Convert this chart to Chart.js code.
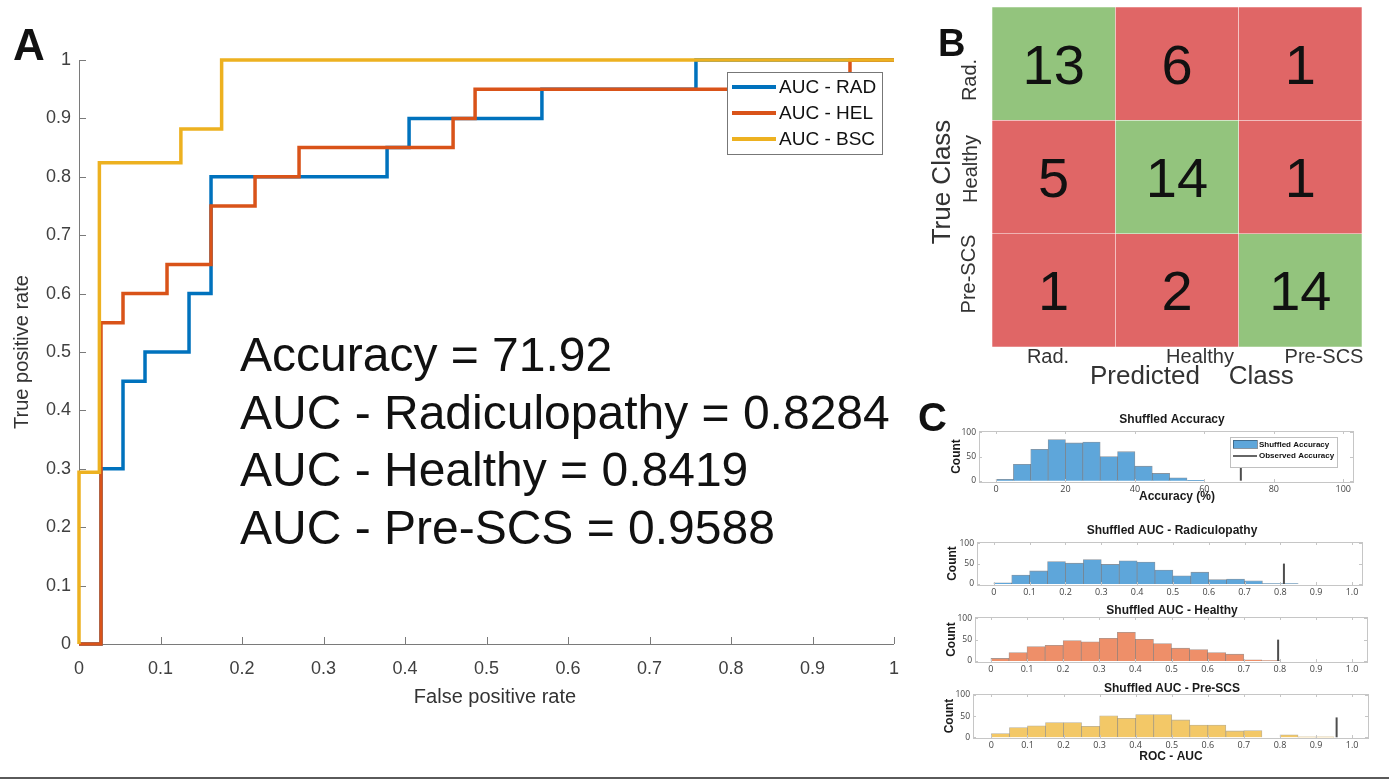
<!DOCTYPE html>
<html>
<head>
<meta charset="utf-8">
<script src="https://cdn.jsdelivr.net/npm/chart.js@4.4.1/dist/chart.umd.min.js"></script>
<style>
  body { margin: 0; background: #fff; }
  #page { position: relative; width: 1389px; height: 781px; overflow: hidden; background: #fff; }
  canvas { position: absolute; }
  #sep { position: absolute; left: 0; top: 777px; width: 1389px; height: 2px; background: #5a5a5a; }
</style>
</head>
<body>
<div id="page">
  <canvas id="roc"></canvas>
  <canvas id="cm"></canvas>
  <canvas id="h1"></canvas>
  <canvas id="h2"></canvas>
  <canvas id="h3"></canvas>
  <canvas id="h4"></canvas>
  <div id="sep"></div>
</div>
<script>
// --- panel A: ROC curves (vertices) ---
const rocNames = ["AUC - RAD", "AUC - HEL", "AUC - BSC"];
const rocColors = ["#0072BD", "#D95319", "#EDB120"];
const radX = [0, 0.027, 0.027, 0.054, 0.054, 0.081, 0.081, 0.135, 0.135, 0.162, 0.162, 0.378, 0.378, 0.405, 0.405, 0.568, 0.568, 0.757, 0.757, 1];
const radY = [0, 0, 0.30, 0.30, 0.45, 0.45, 0.50, 0.50, 0.60, 0.60, 0.80, 0.80, 0.85, 0.85, 0.90, 0.90, 0.95, 0.95, 1, 1];
const helX = [0, 0.027, 0.027, 0.054, 0.054, 0.108, 0.108, 0.162, 0.162, 0.216, 0.216, 0.270, 0.270, 0.459, 0.459, 0.486, 0.486, 0.946, 0.946, 1];
const helY = [0, 0, 0.55, 0.55, 0.60, 0.60, 0.65, 0.65, 0.75, 0.75, 0.80, 0.80, 0.85, 0.85, 0.90, 0.90, 0.95, 0.95, 1, 1];
const bscX = [0, 0, 0.025, 0.025, 0.125, 0.125, 0.175, 0.175, 1];
const bscY = [0, 0.294, 0.294, 0.824, 0.824, 0.882, 0.882, 1, 1];
const rocTicks = [0, 0.1, 0.2, 0.3, 0.4, 0.5, 0.6, 0.7, 0.8, 0.9, 1];
const statLines = ["Accuracy = 71.92", "AUC - Radiculopathy = 0.8284", "AUC - Healthy = 0.8419", "AUC - Pre-SCS = 0.9588"];

// --- panel B: confusion matrix ---
const cmClasses = ["Rad.", "Healthy", "Pre-SCS"];
const cmCounts = [[13, 6, 1], [5, 14, 1], [1, 2, 14]];

// --- panel C: shuffled histograms ---
const accBins = [0, 5, 10, 15, 20, 25, 30, 35, 40, 45, 50, 55];
const accCounts = [3, 34, 65, 85, 78, 80, 50, 60, 30, 15, 6, 1];
const accTicks = [0, 20, 40, 60, 80, 100];
const accTickLabels = ["0", "20", "40", "60", "80", "100"];
const aucBins = [0, 0.05, 0.1, 0.15, 0.2, 0.25, 0.3, 0.35, 0.4, 0.45, 0.5, 0.55, 0.6, 0.65, 0.7, 0.75, 0.8, 0.85, 0.9];
const radCounts = [3, 22, 32, 55, 51, 60, 48, 57, 54, 34, 20, 29, 11, 12, 8, 1, 1];
const helCounts = [6, 20, 34, 37, 48, 45, 53, 67, 51, 41, 30, 27, 20, 16, 3, 1];
const bscCounts = [9, 23, 27, 35, 35, 26, 51, 45, 54, 54, 41, 29, 29, 15, 16, 0, 6, 1, 1];
const aucTicks = [0, 0.1, 0.2, 0.3, 0.4, 0.5, 0.6, 0.7, 0.8, 0.9, 1];
const aucTickLabels = ["0", "0.1", "0.2", "0.3", "0.4", "0.5", "0.6", "0.7", "0.8", "0.9", "1.0"];
const countTicks = [0, 50, 100];
const observed = [70.5, 0.81, 0.795, 0.957];
const observedCounts = [36, 50, 50, 47];

Chart.defaults.font.family = "'Liberation Sans', Arial, Helvetica, sans-serif";

function place(id, left, top, w, h) {
  const c = document.getElementById(id);
  c.width = w; c.height = h;
  c.style.left = left + "px"; c.style.top = top + "px";
  c.style.width = w + "px"; c.style.height = h + "px";
  return c;
}

function text(ctx, str, x, y, font, color, align, baseline, rot) {
  ctx.save();
  ctx.font = font;
  ctx.fillStyle = color;
  ctx.textAlign = align || "left";
  ctx.textBaseline = baseline || "alphabetic";
  ctx.translate(x, y);
  if (rot) ctx.rotate(rot);
  ctx.fillText(str, 0, 0);
  ctx.restore();
}

const pts = (xs, ys) => xs.map((x, i) => ({ x: x, y: ys[i] }));
const noPad = s => { s.paddingLeft = 0; s.paddingRight = 0; s.paddingTop = 0; s.paddingBottom = 0; };

// ROC chart
place("roc", 0, 0, 910, 730);
const rocDecor = {
  id: "rocDecor",
  beforeDatasetsDraw(chart) {
    const { ctx, chartArea: a } = chart;
    const xs = chart.scales.x, ys = chart.scales.y;
    ctx.save();
    ctx.strokeStyle = "#7a7a7a";
    ctx.lineWidth = 1;
    ctx.beginPath();
    ctx.moveTo(a.left + 0.5, a.top);
    ctx.lineTo(a.left + 0.5, a.bottom + 0.5);
    ctx.lineTo(a.right, a.bottom + 0.5);
    rocTicks.forEach(v => {
      const px = Math.round(xs.getPixelForValue(v)) + 0.5;
      ctx.moveTo(px, a.bottom);
      ctx.lineTo(px, a.bottom - 7);
      const py = Math.round(ys.getPixelForValue(v)) + 0.5;
      ctx.moveTo(a.left, py);
      ctx.lineTo(a.left + 7, py);
    });
    ctx.stroke();
    ctx.restore();
  },
  afterDraw(chart) {
    const ctx = chart.ctx;
    text(ctx, "A", 13, 60, "bold 44px 'Liberation Sans', Arial", "#111");
    text(ctx, "True positive rate", 22, 352, "20px 'Liberation Sans', Arial", "#333", "center", "middle", -Math.PI / 2);
    text(ctx, "False positive rate", 495, 697, "20px 'Liberation Sans', Arial", "#333", "center", "middle");
    statLines.forEach((s, i) => text(ctx, s, 240, 371 + i * 57.5, "48px 'Liberation Sans', Arial", "#111"));
    // legend
    ctx.save();
    ctx.fillStyle = "#fff";
    ctx.fillRect(727, 72, 155, 82);
    ctx.strokeStyle = "#777";
    ctx.lineWidth = 1;
    ctx.strokeRect(727.5, 72.5, 155, 82);
    chart.data.datasets.forEach((ds, i) => {
      const y = 87 + i * 26;
      ctx.strokeStyle = ds.borderColor;
      ctx.lineWidth = 4;
      ctx.beginPath();
      ctx.moveTo(732, y);
      ctx.lineTo(776, y);
      ctx.stroke();
      text(ctx, ds.label, 779, y + 1, "19px 'Liberation Sans', Arial", "#111", "left", "middle");
    });
    ctx.restore();
  }
};

new Chart("roc", {
  type: "scatter",
  data: {
    datasets: [
      { label: rocNames[0], data: pts(radX, radY), borderColor: rocColors[0], order: 3 },
      { label: rocNames[1], data: pts(helX, helY), borderColor: rocColors[1], order: 2 },
      { label: rocNames[2], data: pts(bscX, bscY), borderColor: rocColors[2], order: 1 }
    ].map(d => Object.assign(d, { showLine: true, borderWidth: 3.5, pointRadius: 0, clip: false, fill: false, tension: 0 }))
  },
  options: {
    responsive: false, animation: false, events: [],
    layout: { padding: { left: 0, top: 60, right: 16, bottom: 0 } },
    plugins: { legend: { display: false }, tooltip: { enabled: false } },
    scales: {
      x: {
        type: "linear", min: 0, max: 1,
        afterBuildTicks: s => { s.ticks = rocTicks.map(v => ({ value: v })); },
        afterFit: s => { s.height = 86; noPad(s); },
        grid: { display: false, drawTicks: false }, border: { display: false },
        ticks: { callback: v => String(v), font: { size: 18 }, color: "#404040", padding: 14, maxRotation: 0, autoSkip: false }
      },
      y: {
        type: "linear", min: 0, max: 1,
        afterBuildTicks: s => { s.ticks = rocTicks.map(v => ({ value: v })); },
        afterFit: s => { s.width = 79; noPad(s); },
        grid: { display: false, drawTicks: false }, border: { display: false },
        ticks: { callback: v => String(v), font: { size: 18 }, color: "#404040", padding: 8, autoSkip: false }
      }
    }
  },
  plugins: [rocDecor]
});

// Confusion matrix
const cmLeft = 920, cmTop = 0;
place("cm", cmLeft, cmTop, 469, 400);
const cmGreen = "#93C47D", cmRed = "#E06666";
const cmDecor = {
  id: "cmDecor",
  afterDraw(chart) {
    const ctx = chart.ctx;
    chart.data.datasets.forEach((ds, r) => {
      chart.getDatasetMeta(r).data.forEach((el, c) => {
        const cy = (el.y + el.base) / 2;
        text(ctx, String(cmCounts[r][c]), el.x, cy + 20, "56px 'Liberation Sans', Arial", "#111", "center");
      });
    });
    const L = s => s - cmLeft;
    text(ctx, "B", L(938), 56, "bold 38px 'Liberation Sans', Arial", "#111");
    const yl = [[970, 80], [971, 169], [969, 274]];
    cmClasses.forEach((s, i) => text(ctx, s, L(yl[i][0]), yl[i][1], "20px 'Liberation Sans', Arial", "#333", "center", "middle", -Math.PI / 2));
    const xl = [1048, 1200, 1324];
    cmClasses.forEach((s, i) => text(ctx, s, L(xl[i]), 357, "20px 'Liberation Sans', Arial", "#333", "center", "middle"));
    text(ctx, "True Class", L(943), 182, "26px 'Liberation Sans', Arial", "#333", "center", "middle", -Math.PI / 2);
    text(ctx, "Predicted    Class", L(1090), 377, "26px 'Liberation Sans', Arial", "#333", "left", "middle");
  }
};

new Chart("cm", {
  type: "bar",
  data: {
    labels: cmClasses,
    datasets: cmClasses.map((name, r) => ({
      label: name,
      data: cmCounts[r].map(() => [r, r + 1]),
      backgroundColor: cmCounts[r].map((v, c) => (r === c ? cmGreen : cmRed)),
      borderColor: "rgba(255,255,255,0.25)",
      borderWidth: 0.6,
      borderSkipped: false,
      barPercentage: 1, categoryPercentage: 1, grouped: false
    }))
  },
  options: {
    responsive: false, animation: false, events: [],
    layout: { padding: { left: 72, top: 7, right: 27, bottom: 53 } },
    plugins: { legend: { display: false }, tooltip: { enabled: false } },
    scales: {
      x: { display: false, offset: true },
      y: { display: false, min: 0, max: 3, reverse: true }
    }
  },
  plugins: [cmDecor]
});

// Histograms
const histLeft = 915;
function histogram(id, cfg) {
  const f = cfg.frame;
  const topH = 32, botH = 30;
  const top = f.t - topH;
  const w = 1389 - histLeft, h = f.b - top + botH;
  place(id, histLeft, top, w, h);
  const leftW = f.l - histLeft, rightW = 1389 - f.r;
  const decor = {
    id: "histDecor",
    afterDraw(chart) {
      const { ctx, chartArea: a } = chart;
      const xs = chart.scales.x, ys = chart.scales.y;
      const L = x => x - histLeft, T = y => y - top;
      ctx.save();
      ctx.strokeStyle = "#c6c6c6";
      ctx.lineWidth = 1;
      ctx.strokeRect(Math.round(a.left) + 0.5, Math.round(a.top) + 0.5, Math.round(a.right - a.left), Math.round(a.bottom - a.top));
      ctx.beginPath();
      cfg.ticks.forEach(v => {
        const px = Math.round(xs.getPixelForValue(v)) + 0.5;
        ctx.moveTo(px, a.bottom); ctx.lineTo(px, a.bottom - 3);
        ctx.moveTo(px, a.top); ctx.lineTo(px, a.top + 3);
      });
      countTicks.forEach(v => {
        const py = Math.round(ys.getPixelForValue(v)) + 0.5;
        ctx.moveTo(a.left, py); ctx.lineTo(a.left + 3, py);
        ctx.moveTo(a.right, py); ctx.lineTo(a.right - 3, py);
      });
      ctx.stroke();
      ctx.restore();
      const bold = "bold 12px 'Liberation Sans', Arial";
      text(ctx, cfg.title, L(1172), T(cfg.titleY), bold, "#1a1a1a", "center", "middle");
      text(ctx, "Count", L(cfg.countX), (a.top + a.bottom) / 2, bold, "#1a1a1a", "center", "middle", -Math.PI / 2);
      if (cfg.xTitle) text(ctx, cfg.xTitle, L(cfg.xTitleX), T(cfg.xTitleY), bold, "#1a1a1a", "center", "middle");
      if (cfg.letter) text(ctx, cfg.letter, L(918), T(431), "bold 40px 'Liberation Sans', Arial", "#111");
      if (cfg.legend) {
        ctx.save();
        ctx.fillStyle = "#fff";
        ctx.fillRect(L(1230), T(437), 107, 30);
        ctx.strokeStyle = "#c0c0c0";
        ctx.lineWidth = 1;
        ctx.strokeRect(L(1230) + 0.5, T(437) + 0.5, 107, 30);
        ctx.fillStyle = cfg.color;
        ctx.fillRect(L(1233), T(440), 24, 8);
        ctx.strokeStyle = cfg.edge;
        ctx.strokeRect(L(1233) + 0.5, T(440) + 0.5, 24, 8);
        ctx.strokeStyle = "#666";
        ctx.lineWidth = 2;
        ctx.beginPath();
        ctx.moveTo(L(1233), T(456)); ctx.lineTo(L(1257), T(456));
        ctx.stroke();
        ctx.restore();
        text(ctx, cfg.legend[0], L(1259), T(444.5), "bold 8px 'Liberation Sans', Arial", "#111", "left", "middle");
        text(ctx, cfg.legend[1], L(1259), T(455.5), "bold 8px 'Liberation Sans', Arial", "#111", "left", "middle");
      }
    }
  };
  return new Chart(id, {
    type: "bar",
    data: {
      datasets: [
        {
          type: "bar", label: cfg.legend ? cfg.legend[0] : cfg.title,
          data: cfg.bins.map((b, i) => ({ x: b + cfg.binWidth / 2, y: cfg.counts[i] })),
          backgroundColor: cfg.color, borderColor: cfg.edge, borderWidth: 0.8,
          barPercentage: 1, categoryPercentage: 1, order: 2
        },
        {
          type: "line", label: cfg.legend ? cfg.legend[1] : "Observed",
          data: [{ x: cfg.observed, y: 0 }, { x: cfg.observed, y: cfg.observedCount }],
          borderColor: "#4d4d4d", borderWidth: 2, pointRadius: 0, order: 1
        }
      ]
    },
    options: {
      responsive: false, animation: false, events: [],
      layout: { padding: { left: 0, top: topH, right: rightW, bottom: 0 } },
      plugins: { legend: { display: false }, tooltip: { enabled: false } },
      scales: {
        x: {
          type: "linear", offset: false, min: cfg.xMin, max: cfg.xMax,
          afterBuildTicks: s => { s.ticks = cfg.ticks.map(v => ({ value: v })); },
          afterFit: s => { s.height = botH; noPad(s); },
          grid: { display: false, drawTicks: false }, border: { display: false },
          ticks: {
            callback: (v, i) => cfg.tickLabels[i],
            font: { size: 9, family: "'Open Sans', 'Liberation Sans', Arial" },
            color: "#444", padding: 2, maxRotation: 0, autoSkip: false
          }
        },
        y: {
          type: "linear", min: cfg.yMin, max: cfg.yMax,
          afterBuildTicks: s => { s.ticks = countTicks.map(v => ({ value: v })); },
          afterFit: s => { s.width = leftW; noPad(s); },
          grid: { display: false, drawTicks: false }, border: { display: false },
          ticks: { font: { size: 8.5, family: "'Open Sans', 'Liberation Sans', Arial" }, color: "#444", padding: 3 }
        }
      }
    },
    plugins: [decor]
  });
}

const blueFace = "#5EA6DA", blueEdge = "rgba(40,60,80,0.55)";
const orangeFace = "#EE8F69", orangeEdge = "rgba(90,45,30,0.5)";
const yellowFace = "#F3C867", yellowEdge = "rgba(100,80,30,0.45)";

histogram("h1", {
  frame: { l: 979, t: 431, r: 1353, b: 482 },
  bins: accBins, binWidth: 5, counts: accCounts,
  xMin: -4.9, xMax: 102.8, yMin: -2.7, yMax: 102.7,
  ticks: accTicks, tickLabels: accTickLabels,
  observed: observed[0], observedCount: observedCounts[0],
  color: blueFace, edge: blueEdge,
  title: "Shuffled Accuracy", titleY: 420, countX: 957,
  xTitle: "Accuracy (%)", xTitleX: 1177, xTitleY: 497,
  legend: ["Shuffled Accuracy", "Observed Accuracy"], letter: "C"
});
histogram("h2", {
  frame: { l: 977, t: 542, r: 1362, b: 585 },
  bins: aucBins, binWidth: 0.05, counts: radCounts,
  xMin: -0.047, xMax: 1.028, yMin: -2.5, yMax: 103,
  ticks: aucTicks, tickLabels: aucTickLabels,
  observed: observed[1], observedCount: observedCounts[1],
  color: blueFace, edge: blueEdge,
  title: "Shuffled AUC - Radiculopathy", titleY: 531, countX: 953
});
histogram("h3", {
  frame: { l: 975, t: 617, r: 1367, b: 662 },
  bins: aucBins, binWidth: 0.05, counts: helCounts,
  xMin: -0.044, xMax: 1.041, yMin: -2.3, yMax: 103,
  ticks: aucTicks, tickLabels: aucTickLabels,
  observed: observed[2], observedCount: observedCounts[2],
  color: orangeFace, edge: orangeEdge,
  title: "Shuffled AUC - Healthy", titleY: 611, countX: 952
});
histogram("h4", {
  frame: { l: 973, t: 694, r: 1368, b: 738 },
  bins: aucBins, binWidth: 0.05, counts: bscCounts,
  xMin: -0.051, xMax: 1.044, yMin: -1.7, yMax: 102.4,
  ticks: aucTicks, tickLabels: aucTickLabels,
  observed: observed[3], observedCount: observedCounts[3],
  color: yellowFace, edge: yellowEdge,
  title: "Shuffled AUC - Pre-SCS", titleY: 689, countX: 950,
  xTitle: "ROC - AUC", xTitleX: 1171, xTitleY: 757
});
</script>
</body>
</html>
